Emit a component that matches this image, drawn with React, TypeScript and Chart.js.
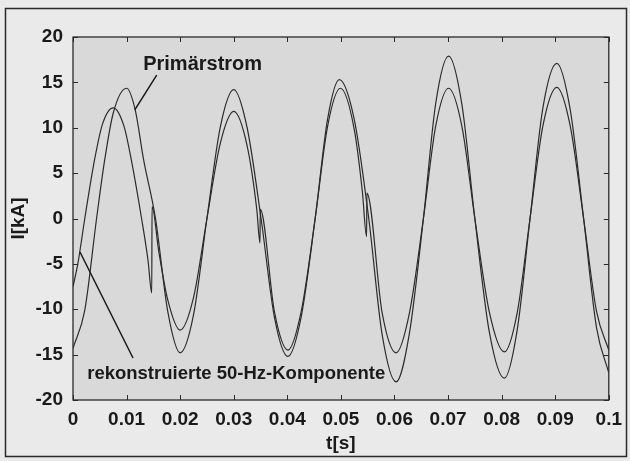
import React, { useEffect, useRef } from 'react';
import { Chart, registerables } from 'chart.js';

Chart.register(...registerables);

// ---- data ----
const tPrimary = [0, 0.0022, 0.0044, 0.0059, 0.0075, 0.0100, 0.0116, 0.0132, 0.0154, 0.0177, 0.0200,
  0.0225, 0.0250, 0.0275, 0.0300, 0.0325, 0.0351, 0.0376, 0.0401, 0.0426, 0.0452, 0.0475, 0.0497,
  0.0525, 0.0552, 0.0577, 0.0603, 0.0628, 0.0654, 0.0677, 0.0701, 0.0726, 0.0750, 0.0777, 0.0805,
  0.0829, 0.0853, 0.0877, 0.0903, 0.0928, 0.0953, 0.0977, 0.1000];
const iPrimary = [-14.3, -10.1, 0, 6.4, 11.6, 14.35, 12.0, 6.4, 0, -10.3, -14.8,
  -10.6, 0, 10.1, 14.2, 10.0, 0, -10.9, -15.2, -10.8, 0, 10.9, 15.3,
  10.9, 0, -12.8, -18.0, -12.6, 0, 12.7, 17.9, 12.5, 0, -12.5, -17.6,
  -12.3, 0, 12.2, 17.1, 12.0, 0, -12.0, -17.0];

const tRecon = [0, 0.0009, 0.0022, 0.0040, 0.0055, 0.0075, 0.0095, 0.0109, 0.0128, 0.0140, 0.0147,
  0.01475, 0.0160, 0.0177, 0.0200, 0.0225, 0.0250, 0.0275, 0.0300, 0.0325, 0.0343, 0.0349, 0.03495,
  0.0376, 0.0401, 0.0426, 0.0452, 0.0475, 0.0499, 0.0525, 0.0540, 0.0548, 0.05485, 0.0577, 0.0603,
  0.0628, 0.0654, 0.0677, 0.0701, 0.0726, 0.0750, 0.0777, 0.0805, 0.0829, 0.0853, 0.0877, 0.0903,
  0.0928, 0.0953, 0.0977, 0.1000];
const iRecon = [-7.5, -5.0, 0, 6.4, 10.4, 12.2, 10.2, 6.4, 0, -4.6, -8.2,
  1.3, -3.6, -9.0, -12.3, -8.7, 0, 8.3, 11.8, 8.0, 1.0, -2.7, 1.0,
  -10.3, -14.5, -10.2, 0, 10.1, 14.35, 9.8, 3.0, -2.0, 2.8, -10.4, -14.8,
  -10.4, 0, 10.2, 14.35, 10.1, 0, -10.3, -14.7, -10.4, 0, 10.2, 14.45,
  10.2, 0, -10.2, -14.5];

const xTickValues = [0, 0.01, 0.02, 0.03, 0.04, 0.05, 0.06, 0.07, 0.08, 0.09, 0.1];
const xTickLabels = ['0', '0.01', '0.02', '0.03', '0.04', '0.05', '0.06', '0.07', '0.08', '0.09', '0.1'];
const yTickValues = [-20, -15, -10, -5, 0, 5, 10, 15, 20];

const seriesNames = ['Primärstrom', 'rekonstruierte 50-Hz-Komponente'];
// annotation text anchors (left x, middle y) in data units
const labelX = [0.0131, 0.00265];
const labelY = [17.0, -17.1];
// pointer lines in data units: [x1, y1, x2, y2]
const pointerFrom = [[0.01562, 15.81], [0.0013, -3.69]];
const pointerTo = [[0.01153, 11.96], [0.0112, -15.37]];

const FONT = "'Liberation Sans', Arial, Helvetica, sans-serif";

const decorPlugin = {
  id: 'decor',
  beforeDraw(chart: any) {
    const { ctx, width, height, chartArea: a } = chart;
    ctx.save();
    ctx.fillStyle = '#eaeaea';
    ctx.fillRect(0, 0, width, height);
    // outer frame
    ctx.strokeStyle = '#2a2a2a';
    ctx.lineWidth = 1.5;
    ctx.strokeRect(5.5, 8.5, 621, 448);
    // plot area
    ctx.fillStyle = '#d9d9d9';
    ctx.fillRect(a.left, a.top, a.right - a.left, a.bottom - a.top);
    ctx.restore();
  },
  afterDatasetsDraw(chart: any) {
    const { ctx, chartArea: a, scales } = chart;
    const xs = scales.x;
    const ys = scales.y;
    ctx.save();
    // plot frame
    ctx.strokeStyle = '#2a2a2a';
    ctx.lineWidth = 1.3;
    ctx.strokeRect(a.left, a.top, a.right - a.left, a.bottom - a.top);
    // inward ticks
    const tl = 5;
    ctx.lineWidth = 1;
    ctx.beginPath();
    xTickValues.forEach((v) => {
      const px = Math.round(xs.getPixelForValue(v)) + 0.5;
      ctx.moveTo(px, a.bottom); ctx.lineTo(px, a.bottom - tl);
      ctx.moveTo(px, a.top); ctx.lineTo(px, a.top + tl);
    });
    yTickValues.forEach((v) => {
      const py = Math.round(ys.getPixelForValue(v)) + 0.5;
      ctx.moveTo(a.left, py); ctx.lineTo(a.left + tl, py);
      ctx.moveTo(a.right, py); ctx.lineTo(a.right - tl, py);
    });
    ctx.stroke();
    // pointer lines
    ctx.strokeStyle = '#1a1a1a';
    ctx.lineWidth = 1.5;
    ctx.beginPath();
    pointerFrom.forEach((p, i) => {
      ctx.moveTo(xs.getPixelForValue(p[0]), ys.getPixelForValue(p[1]));
      ctx.lineTo(xs.getPixelForValue(pointerTo[i][0]), ys.getPixelForValue(pointerTo[i][1]));
    });
    ctx.stroke();
    // labels
    ctx.fillStyle = '#1a1a1a';
    ctx.textBaseline = 'middle';
    ctx.textAlign = 'left';
    const sizes = [20, 18.5];
    seriesNames.forEach((s, i) => {
      ctx.font = `bold ${sizes[i]}px ${FONT}`;
      ctx.fillText(s, xs.getPixelForValue(labelX[i]), ys.getPixelForValue(labelY[i]));
    });
    ctx.restore();
  },
};

export default function App() {
  const ref = useRef<HTMLCanvasElement | null>(null);
  useEffect(() => {
    document.body.style.margin = '0';
    const canvas = ref.current;
    if (!canvas) return;
    const lineStyle = {
      borderColor: '#2b2b2b',
      borderWidth: 1.2,
      pointRadius: 0,
      fill: false,
      cubicInterpolationMode: 'monotone' as const,
    };
    const chart = new Chart(canvas, {
      type: 'line',
      data: {
        datasets: [
          { label: seriesNames[0], data: tPrimary.map((t, i) => ({ x: t, y: iPrimary[i] })), ...lineStyle },
          { label: seriesNames[1], data: tRecon.map((t, i) => ({ x: t, y: iRecon[i] })), ...lineStyle },
        ],
      },
      options: {
        animation: false,
        responsive: false,
        devicePixelRatio: 1,
        layout: { padding: { left: 0, right: 21, top: 37, bottom: 0 } },
        plugins: { legend: { display: false }, tooltip: { enabled: false } },
        scales: {
          x: {
            type: 'linear',
            min: 0,
            max: 0.1,
            grid: { display: false, drawTicks: false },
            border: { display: false },
            afterBuildTicks: (s: any) => { s.ticks = xTickValues.map((v) => ({ value: v })); },
            afterFit: (s: any) => { s.height = 61; },
            ticks: {
              autoSkip: false,
              maxRotation: 0,
              padding: 8,
              color: '#1a1a1a',
              font: { family: FONT, size: 19, weight: 'bold' },
              callback: (_v: any, i: number) => xTickLabels[i],
            },
            title: {
              display: true,
              text: 't[s]',
              color: '#1a1a1a',
              font: { family: FONT, size: 19, weight: 'bold' },
              padding: { top: 0, bottom: 6 },
            },
          },
          y: {
            type: 'linear',
            min: -20,
            max: 20,
            grid: { display: false, drawTicks: false },
            border: { display: false },
            afterBuildTicks: (s: any) => { s.ticks = yTickValues.map((v) => ({ value: v })); },
            afterFit: (s: any) => { s.width = 73; },
            ticks: {
              autoSkip: false,
              padding: 10,
              color: '#1a1a1a',
              font: { family: FONT, size: 19, weight: 'bold' },
            },
            title: {
              display: true,
              text: 'I[kA]',
              color: '#1a1a1a',
              font: { family: FONT, size: 19, weight: 'bold' },
              padding: { top: 7, bottom: 0 },
            },
          },
        },
      },
      plugins: [decorPlugin],
    });
    return () => chart.destroy();
  }, []);
  return (
    <div style={{ position: 'relative', width: 630, height: 461 }}>
      <canvas ref={ref} width={630} height={461} />
    </div>
  );
}
